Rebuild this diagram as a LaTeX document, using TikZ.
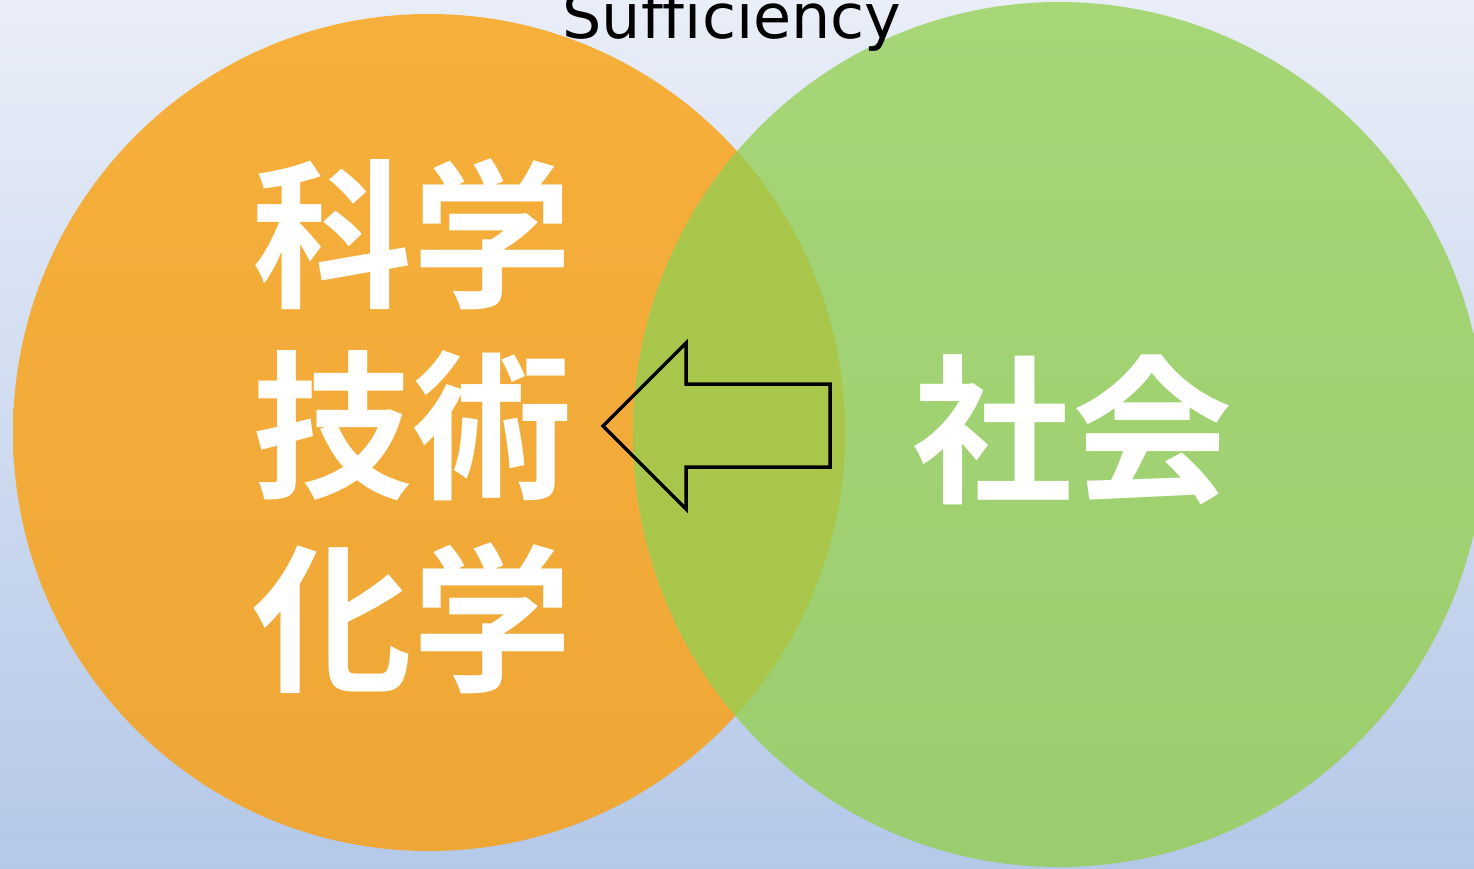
\documentclass[tikz,border=0pt]{standalone}
\usepackage{fontspec}
\newfontfamily\jpfont{Noto Sans CJK JP}[BoldFont={Noto Sans CJK JP Bold}]
\newfontfamily\labelfont{DejaVu Sans}[Ligatures=NoCommon]
\definecolor{bgtop}{HTML}{E9EEF8}
\definecolor{bgbot}{HTML}{B4C8E8}
\definecolor{orangetop}{HTML}{F7AF3B}
\definecolor{orangebot}{HTML}{EEA736}
\definecolor{greentop}{HTML}{A6D676}
\definecolor{greenbot}{HTML}{9BCD6E}
\definecolor{overlapcol}{HTML}{A8C64A}
\tikzset{
  kanji/.style={text=white, inner sep=0pt, font=\jpfont\bfseries\fontsize{160}{160}\selectfont},
  title/.style={text=black, inner sep=0pt, anchor=base, font=\labelfont\fontsize{62}{62}\selectfont},
  outlinearrow/.style={draw=black, line width=3.5pt, line join=miter}
}
\begin{document}
\begin{tikzpicture}[x=1pt,y=-1pt]
  \useasboundingbox (0,0) rectangle (1474,868);
  \clip (0,0) rectangle (1474,868);
  % background
  \shade[top color=bgtop, bottom color=bgbot] (0,0) rectangle (1474,868);
  % the two sets
  \shade[top color=orangetop, bottom color=orangebot]
    (429,432.5) ellipse [x radius=416, y radius=418.5];
  \shade[top color=greentop, bottom color=greenbot]
    (1059,434.5) ellipse [x radius=426, y radius=432.5];
  % their intersection
  \begin{scope}
    \clip (429,432.5) ellipse [x radius=416, y radius=418.5];
    \fill[overlapcol] (1059,434.5) ellipse [x radius=426, y radius=432.5];
  \end{scope}
  % heading
  \node[title] (heading) at (732,38) {Sufficiency};
  % labels
  \node[kanji] (kagaku) at (412.5,234) {科学};
  \node[kanji] (gijutsu) at (412,426) {技術};
  \node[kanji] (kagaku2) at (412.5,618) {化学};
  \node[kanji] (shakai) at (1072.5,430) {社会};
  % block arrow pointing left
  \draw[outlinearrow] (603,426) -- (686,343) -- (686,384) -- (830,384)
    -- (830,467) -- (686,467) -- (686,509) -- cycle;
\end{tikzpicture}
\end{document}
